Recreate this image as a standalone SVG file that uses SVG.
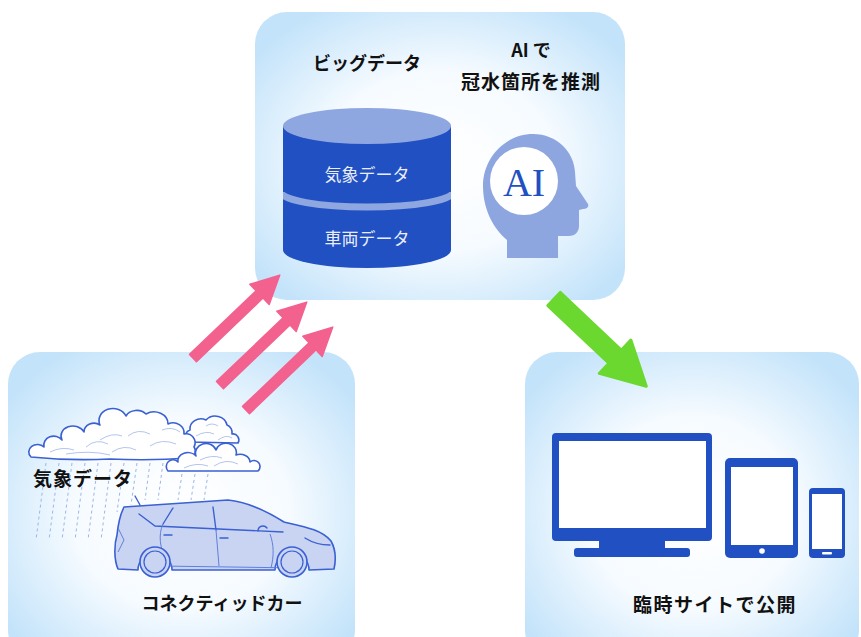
<svg xmlns="http://www.w3.org/2000/svg" width="861" height="637" viewBox="0 0 861 637">
  <defs>
    <radialGradient id="panelFill" cx="50%" cy="52%" r="62%">
      <stop offset="0" stop-color="#ffffff"/>
      <stop offset="0.5" stop-color="#f6fbff"/>
      <stop offset="1" stop-color="#c3e3fa"/>
    </radialGradient>
    <clipPath id="cylClip">
      <rect x="283" y="100" width="168" height="180"/>
    </clipPath>
    <polygon id="pinkArrow" points="0,-5 92,-5 92,-14 120,0 92,14 92,5 0,5"/>
  </defs>
  <style>
    .panel { fill: url(#panelFill); }
    .label { font-family: "Noto Sans CJK JP", "Noto Sans", sans-serif; font-weight: bold; fill: #111111; }
    .dbtxt { font-family: "Noto Sans CJK JP", "Noto Sans", sans-serif; fill: #e9eefa; font-size: 17px; text-anchor: middle; }
    .pink { fill: #f3618f; stroke: #f3618f; stroke-width: 1.5; stroke-linejoin: round; }
    .cloud { fill: #ffffff; stroke: #3a60d2; stroke-width: 1.6; stroke-linejoin: round; }
    .cloudIn { fill: none; stroke: #b3c5ef; stroke-width: 1; }
    .rain { stroke: #9db5ea; stroke-width: 1; stroke-dasharray: 3 3; fill: none; }
    .car { fill: #c9d4f3; stroke: #3a60d2; stroke-width: 1.6; stroke-linejoin: round; }
    .carLine { fill: none; stroke: #3a60d2; stroke-width: 1.4; stroke-linecap: round; }
    .carThin { fill: none; stroke: #5f7fdc; stroke-width: 1; }
    .device { fill: #2150c2; }
    .screen { fill: #ffffff; }
  </style>

  <!-- Big data + AI panel -->
  <g id="analysis">
    <rect class="panel" x="255" y="12" width="370" height="288" rx="32"/>
    <text class="label" x="367" y="70" font-size="18" text-anchor="middle">ビッグデータ</text>
    <text class="label" x="531" y="57" font-size="18" text-anchor="middle">AI で</text>
    <text class="label" x="531" y="89" font-size="19" text-anchor="middle" letter-spacing="1">冠水箇所を推測</text>
    <!-- database cylinder -->
    <g id="database">
      <path d="M283,126 L283,250 A84,18 0 0 0 451,250 L451,126 Z" fill="#2150c2"/>
      <ellipse cx="367" cy="126" rx="84" ry="18" fill="#8fa7e0"/>
      <path d="M281,192 A86,15 0 0 0 453,192" fill="none" stroke="#8fa7e0" stroke-width="7" clip-path="url(#cylClip)"/>
      <text class="dbtxt" x="367" y="181">気象データ</text>
      <text class="dbtxt" x="367" y="245">車両データ</text>
    </g>
    <!-- AI head -->
    <g id="ai-head">
      <path d="M507,258 L507,240 C494,229 483,210 483,186 C483,157 506,134 533,134 C557,134 574,152 575,172 L576,186 L588,204 C589,207 587,209 583,209 L579,210 L579,226 C579,232 575,236 569,236 L558,236 L558,258 Z" fill="#8ea6df"/>
      <circle cx="524" cy="181" r="34" fill="#ffffff"/>
      <text x="524" y="196" font-family="Liberation Serif, serif" font-size="40" fill="#2150c2" text-anchor="middle">AI</text>
    </g>
  </g>

  <!-- Connected car panel -->
  <g id="connected-car">
    <rect class="panel" x="8" y="352" width="347" height="310" rx="32"/>
    <!-- rain -->
    <g id="rain">
      <path class="rain" d="M46,463 L36,540 M59,463 L49,540 M72,463 L62,540 M85,463 L75,540 M98,463 L88,540 M111,463 L101,540 M124,463 L117,512 M137,463 L131,505 M150,463 L145,500 M163,463 L158,500 M182,474 L178,500 M195,474 L191,500 M208,474 L204,500"/>
    </g>
    <!-- clouds -->
    <g id="clouds">
      <path class="cloud" d="M188,442 A7,7 0 0 1 190,430 A11,10 0 0 1 206,420 A12,11 0 0 1 227,425 A8,8 0 0 1 232,434 A6,6 0 0 1 238,443 Z"/>
      <path class="cloudIn" d="M196,436 Q206,430 214,434 M218,440 Q226,434 232,438 M206,426 Q212,422 218,426"/>
      <path class="cloud" d="M31,457 A7,6 0 0 1 44,447 A10,9 0 0 1 62,440 A12,10 0 0 1 84,432 A10,9 0 0 1 100,425 A14,12 0 0 1 126,416 A12,10 0 0 1 146,414 A14,12 0 0 1 168,424 A11,10 0 0 1 184,434 A9,9 0 0 1 194,447 A7,7 0 0 1 190,458 Q150,461 110,459 Q70,461 31,457 Z"/>
      <path class="cloudIn" d="M50,452 Q62,446 74,450 M86,447 Q96,438 108,444 M112,452 Q124,444 136,450 M128,436 Q138,428 150,434 M150,446 Q162,438 176,444 M100,440 Q112,432 122,436 M162,430 Q172,426 180,432 M66,454 Q90,450 110,455"/>
      <path class="cloud" d="M168,471 A6,6 0 0 1 178,462 A10,8 0 0 1 196,456 A10,9 0 0 1 216,450 A10,9 0 0 1 236,455 A10,8 0 0 1 250,462 A6,6 0 0 1 258,471 Z"/>
      <path class="cloudIn" d="M184,468 Q196,462 208,466 M214,466 Q226,458 238,464 M200,460 Q212,454 222,458"/>
    </g>
    <text class="label" x="33" y="486" font-size="19" letter-spacing="1">気象データ</text>
    <!-- car -->
    <g id="car">
      <path class="carLine" d="M140,505 L135,496"/>
      <path class="car" d="M124,507 L228,500 C248,502 265,510 284,522 C306,527 322,530 331,541 C336,550 336,560 334,569 L309,570 A17,17 0 0 0 275,570 L172,570 A17,17 0 0 0 138,570 L118,569 C114,560 114,545 117,535 C118,525 120,515 124,507 Z"/>
      <path class="carLine" d="M139,514 L155,526 L283,532 M173,508 L163,524 M213,507 L216,530"/>
      <path class="carThin" d="M163,524 C158,535 160,548 166,560 M216,530 L219,566 M270,534 C274,545 274,556 271,568 M160,566 L300,568"/>
      <path class="carLine" d="M164,535 L172,535 M220,538 L228,538 M305,538 Q316,545 330,545 M258,531 A5,5 0 0 1 267,528"/>
      <path class="carThin" d="M118,528 L124,540 L118,552"/>
      <circle cx="155" cy="562" r="15" fill="#c9d4f3" stroke="#3a60d2" stroke-width="1.6"/>
      <circle cx="155" cy="562" r="11" fill="none" stroke="#3a60d2" stroke-width="1.2"/>
      <circle cx="292" cy="562" r="15" fill="#c9d4f3" stroke="#3a60d2" stroke-width="1.6"/>
      <circle cx="292" cy="562" r="11" fill="none" stroke="#3a60d2" stroke-width="1.2"/>
    </g>
    <text class="label" x="222" y="610" font-size="18" text-anchor="middle">コネクティッドカー</text>
  </g>

  <!-- Publication panel -->
  <g id="publication">
    <rect class="panel" x="525" y="352" width="334" height="310" rx="32"/>
    <g id="monitor">
      <rect class="device" x="552" y="433" width="160" height="108" rx="4"/>
      <rect class="screen" x="559" y="441" width="147" height="87"/>
      <rect class="device" x="599" y="540" width="66" height="10"/>
      <rect class="device" x="574" y="548" width="116" height="9" rx="3"/>
    </g>
    <g id="tablet">
      <rect class="device" x="725" y="458" width="73" height="100" rx="5"/>
      <rect class="screen" x="731" y="467" width="62" height="78"/>
      <circle class="screen" cx="762" cy="551" r="2.8"/>
    </g>
    <g id="phone">
      <rect class="device" x="809" y="488" width="36" height="70" rx="4"/>
      <rect class="screen" x="812" y="494" width="30" height="55"/>
      <rect class="screen" x="822" y="552" width="10" height="2.5" rx="1"/>
    </g>
    <text class="label" x="715" y="612" font-size="19" text-anchor="middle" letter-spacing="1.5">臨時サイトで公開</text>
  </g>

  <!-- Connectors -->
  <g id="connectors">
    <use href="#pinkArrow" class="pink" transform="translate(193,358) rotate(-43.7)"/>
    <use href="#pinkArrow" class="pink" transform="translate(220,385) rotate(-43.7)"/>
    <use href="#pinkArrow" class="pink" transform="translate(246,410) rotate(-43.7)"/>
    <polygon points="0,-9 84,-9 84,-23 127,0 84,23 84,9 0,9" fill="#6bd82f" stroke="#6bd82f" stroke-width="3" stroke-linejoin="round" transform="translate(554,299) rotate(43.4)"/>
  </g>
</svg>
